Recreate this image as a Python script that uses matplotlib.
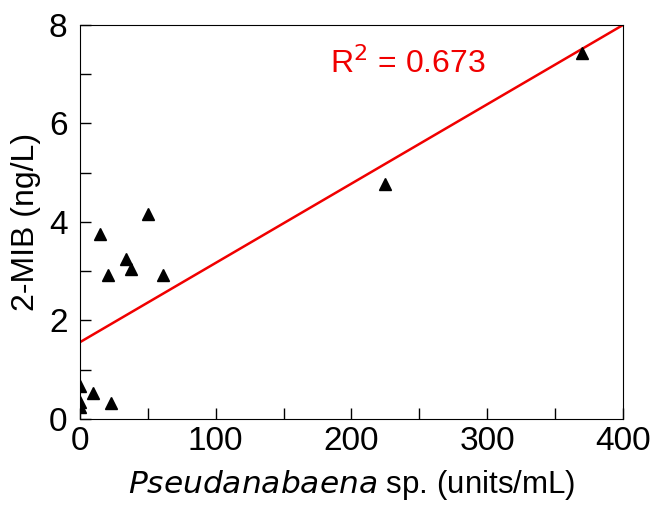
import matplotlib.pyplot as plt
from matplotlib.ticker import MultipleLocator

plt.rcParams['font.family'] = ['Liberation Sans', 'DejaVu Sans']

# cell counts (units/mL) and 2-MIB concentration (ng/L)
cells = [0, 0, 0, 9.5, 22.5, 14.7, 20.8, 33.6, 37.8, 50, 61, 225, 370]
mib = [0.68, 0.35, 0.24, 0.53, 0.33, 3.75, 2.92, 3.25, 3.05, 4.16, 2.92, 4.77, 7.43]

# linear fit
fit_x = [0, 400]
intercept = 1.56
slope = 0.0161
r2 = 0.673

fig = plt.figure(figsize=(6.52, 5.08), dpi=100)
ax = fig.add_axes([0.1227, 0.1752, 0.8328, 0.7756])

ax.plot(fit_x, [intercept + slope * x for x in fit_x], c='#f00000', lw=1.8, zorder=2)
ax.plot(cells, mib, ls='none', marker='^', ms=8.5, c='black', zorder=3)

ax.text(184, 7.22, 'R$^2$ = %.3f' % r2, color='#f00000', fontsize=23, va='center')

ax.set_xlim(0, 400)
ax.set_ylim(0, 8)
ax.xaxis.set_major_locator(MultipleLocator(100))
ax.xaxis.set_minor_locator(MultipleLocator(50))
ax.yaxis.set_major_locator(MultipleLocator(2))
ax.yaxis.set_minor_locator(MultipleLocator(1))
ax.tick_params(which='both', direction='in', length=8, width=1, labelsize=24)
ax.tick_params(axis='x', pad=5)
ax.tick_params(axis='y', pad=9)

ax.set_xlabel('$\\it{Pseudanabaena}$ sp. (units/mL)', fontsize=22.5, labelpad=8)
ax.set_ylabel('2-MIB (ng/L)', fontsize=23, labelpad=6)

plt.savefig('out.png')
